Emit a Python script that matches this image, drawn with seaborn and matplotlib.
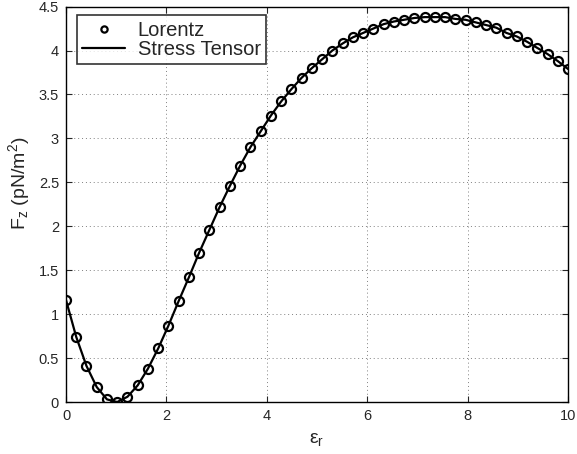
import numpy as np
import pandas as pd
import seaborn as sns
import matplotlib
matplotlib.use("Agg")
import matplotlib.pyplot as plt

# Data (50 samples, eps_r from 0 to 10)
eps_r = np.linspace(0, 10, 50)
lorentz = [1.16, 0.74, 0.41, 0.17, 0.03, 0.00, 0.06, 0.19, 0.38, 0.61,
           0.87, 1.15, 1.42, 1.70, 1.96, 2.22, 2.46, 2.69, 2.90, 3.08,
           3.26, 3.42, 3.56, 3.69, 3.80, 3.90, 4.00, 4.08, 4.15, 4.20,
           4.25, 4.30, 4.33, 4.35, 4.37, 4.38, 4.38, 4.38, 4.36, 4.35,
           4.32, 4.29, 4.26, 4.20, 4.16, 4.10, 4.03, 3.96, 3.88, 3.79]
stress_tensor = list(lorentz)

x_ticks = [0, 2, 4, 6, 8, 10]
y_ticks = [0, 0.5, 1, 1.5, 2, 2.5, 3, 3.5, 4, 4.5]

df = pd.DataFrame({"eps_r": eps_r, "lorentz": lorentz, "stress": stress_tensor})

sns.set_style("ticks")
plt.rcParams["font.family"] = ["Liberation Sans", "DejaVu Sans"]
plt.rcParams["mathtext.fontset"] = "custom"
plt.rcParams["mathtext.rm"] = "Liberation Sans"
plt.rcParams["mathtext.it"] = "Liberation Sans:italic"

fig = plt.figure(figsize=(5.77, 4.54), dpi=100)
ax = fig.add_axes([0.1144, 0.1145, 0.870, 0.871])

sns.lineplot(data=df, x="eps_r", y="lorentz", ax=ax, label="Lorentz",
             linestyle="none", marker="o", markersize=6.5,
             markerfacecolor="none", markeredgecolor="black",
             markeredgewidth=1.6, color="black")
sns.lineplot(data=df, x="eps_r", y="stress", ax=ax, label="Stress Tensor",
             color="black", linewidth=1.6)

ax.set_xlim(0, 10)
ax.set_ylim(0, 4.5)
ax.set_xticks(x_ticks)
ax.set_yticks(y_ticks)
ax.set_xticklabels([f"{t:g}" for t in x_ticks])
ax.set_yticklabels([f"{t:g}" for t in y_ticks])
ax.tick_params(direction="in", top=True, right=True, length=4,
               labelsize=10.5, width=0.8, pad=5)
ax.grid(True, linestyle=(0, (1, 3)), color="#808080", linewidth=0.7)
for s in ax.spines.values():
    s.set_linewidth(1.0)
    s.set_color("black")

ax.set_xlabel("ε$_\\mathregular{r}$", fontsize=14, labelpad=6)
ax.set_ylabel(r"F$_\mathregular{z}$ (pN/m$^\mathregular{2}$)", fontsize=14)
ax.yaxis.set_label_coords(-0.068, 0.554)

leg = ax.legend(loc="upper left", bbox_to_anchor=(0.022, 0.978), fontsize=14.5,
                frameon=True, fancybox=False, edgecolor="black",
                handlelength=2.1, borderpad=0.27, labelspacing=0.0,
                handletextpad=0.65, borderaxespad=0)
leg.get_frame().set_linewidth(1.2)
leg.legend_handles[0].set_markersize(4.5)

fig.savefig("out.png", dpi=100)
